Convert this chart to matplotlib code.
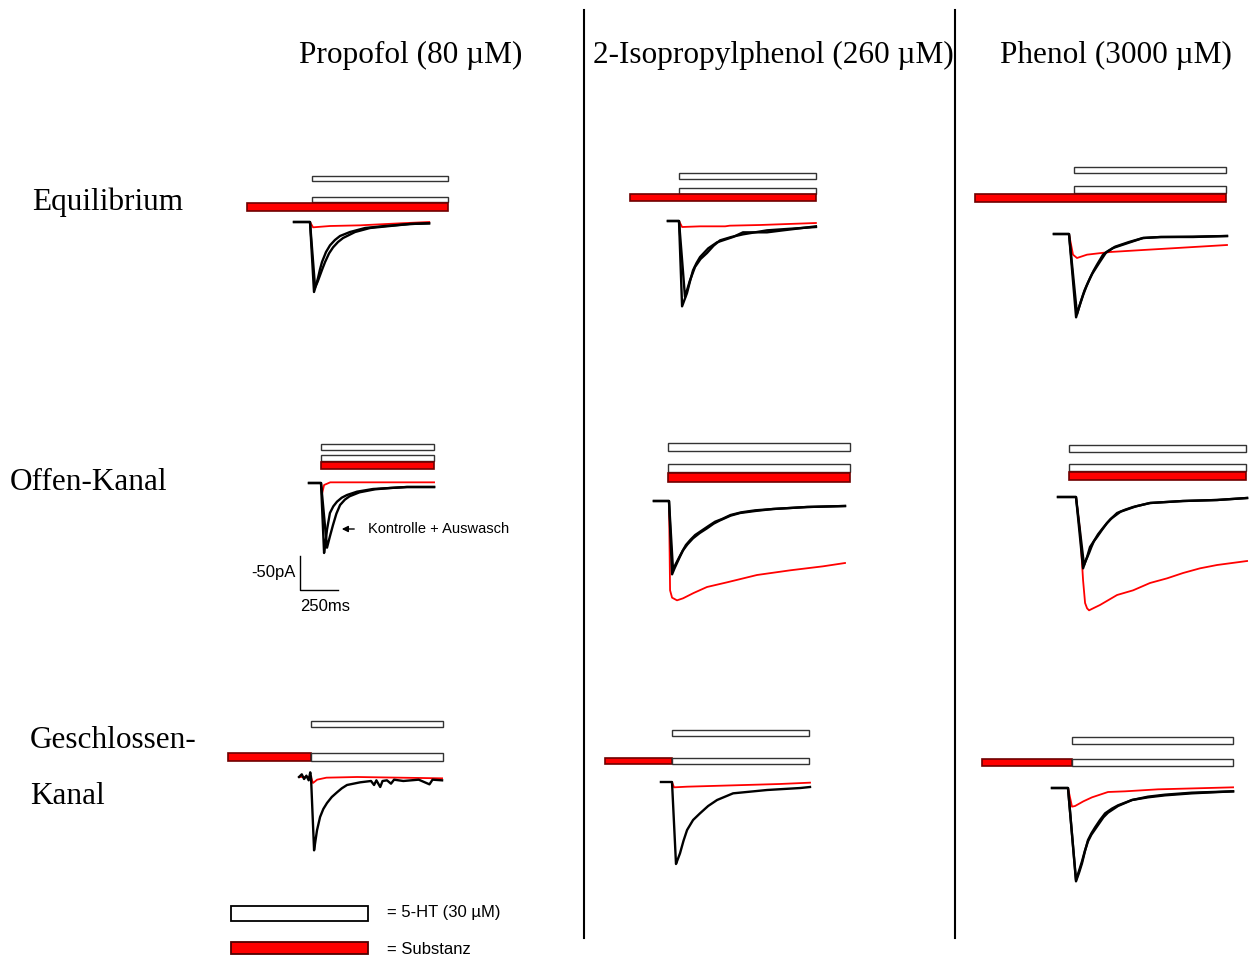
import matplotlib.pyplot as plt
from matplotlib.patches import Rectangle
from matplotlib.transforms import blended_transform_factory

W, H = 1255, 957
MS_PER_PX = 6.5     # time scale of every trace
PA_PER_PX = 1.5     # current scale of every trace

SERIF = 'Liberation Serif'
SANS = 'Liberation Sans'

col_titles = ['Propofol (80 µM)', '2-Isopropylphenol (260 µM)', 'Phenol (3000 µM)']
row_titles = ['Equilibrium', 'Offen-Kanal', 'Geschlossen-', 'Kanal']

# application windows in ms, relative to 5-HT onset of the recording
ht_win = [(13, 897), (0, 890), (33, 1020),
          (0, 735), (-6, 1177), (-46, 1105),
          (0, 858), (0, 891), (26, 1073)]
sub_win = [(-410, 897), (-318, 890), (-611, 1020),
           (0, 735), (-6, 1177), (-46, 1105),
           (-540, 0), (-436, 0), (-559, 26)]

# currents (ms, pA); ctrl/wash = 5-HT alone, sub = with substance
eq_prop_ctrl = [(-104, 0), (0, 0), (26, -105), (39, -95), (52, -84), (65, -71), (78, -60),
                (104, -45), (130, -35), (162, -27), (195, -21), (260, -15), (358, -9),
                (488, -6), (650, -3), (774, -2)]
eq_prop_wash = [(-104, 0), (0, 0), (33, -98), (49, -90), (65, -80), (81, -70), (98, -60),
                (124, -47), (150, -38), (182, -30), (215, -24), (293, -15), (390, -9),
                (520, -6), (650, -3), (774, -2)]
eq_prop_sub = [(-104, 0), (0, 0), (20, -8), (130, -6), (325, -5), (585, -2), (775, 0)]

eq_ipp_ctrl = [(-72, 0), (0, 0), (20, -128), (36, -118), (52, -108), (72, -90), (91, -74),
               (114, -63), (137, -54), (190, -41), (247, -32), (351, -24), (416, -17),
               (572, -17), (676, -14), (890, -8)]
eq_ipp_wash = [(-72, 0), (0, 0), (39, -114), (70, -90), (104, -69), (140, -57), (182, -48),
               (225, -37), (267, -29), (340, -24), (416, -20), (572, -14), (890, -9)]
eq_ipp_sub = [(-72, 0), (0, 0), (20, -9), (137, -8), (300, -8), (330, -7), (527, -6), (890, -3)]

eq_phen_ctrl = [(-98, 0), (0, 0), (46, -125), (68, -108), (91, -92), (114, -78), (137, -66),
                (160, -55), (182, -46), (221, -31), (250, -26), (286, -21), (377, -14),
                (481, -6), (592, -4.5), (806, -4.5), (1027, -3)]
eq_phen_wash = [(-98, 0), (0, 0), (52, -120), (76, -102), (100, -85), (125, -72), (150, -60),
                (200, -42), (240, -28), (300, -19), (390, -12), (481, -6), (600, -4.5),
                (806, -4), (1027, -3)]
eq_phen_sub = [(-98, 0), (0, 0), (26, -31), (52, -36), (117, -31), (267, -27), (481, -24),
               (702, -21), (1027, -16.5)]

oc_prop_ctrl = [(-78, 0), (0, 0), (20, -105), (30, -88), (39, -70), (58, -45), (80, -35),
                (104, -28), (135, -22), (169, -18), (234, -13), (338, -9), (449, -7.5),
                (559, -6), (735, -6)]
oc_prop_wash = [(-78, 0), (0, 0), (39, -97), (58, -80), (78, -63), (100, -46), (124, -33),
                (155, -25), (185, -20), (250, -14), (350, -9.5), (449, -7.5), (559, -6),
                (735, -6)]
oc_prop_sub = [(-78, 0), (0, 0), (7, -16), (20, -3), (60, 1), (735, 1)]

oc_ipp_ctrl = [(-98, 0), (0, 0), (20, -110), (36, -101), (52, -93), (72, -83), (91, -74),
               (120, -65), (156, -56), (200, -48), (247, -41), (290, -34), (332, -29),
               (400, -22), (462, -18), (560, -15), (676, -12), (897, -9), (1144, -7.5)]
oc_ipp_wash = [(-98, 0), (0, 0), (26, -103), (45, -94), (65, -85), (88, -75), (110, -66),
               (140, -58), (170, -51), (215, -44), (260, -37), (300, -31), (345, -27),
               (400, -21), (470, -17), (560, -14), (676, -12), (897, -9), (1144, -7.5)]
oc_ipp_sub = [(-98, 0), (0, 0), (7, -134), (20, -145), (52, -149), (91, -146), (160, -138),
              (247, -129), (377, -122), (572, -111), (787, -104), (1001, -98), (1144, -93)]

oc_phen_ctrl = [(-117, 0), (0, 0), (46, -107), (59, -98), (72, -90), (91, -75), (114, -67),
                (137, -60), (170, -49), (202, -39), (235, -31), (267, -24), (320, -19),
                (371, -15), (481, -9), (696, -6), (917, -4.5), (1112, -1.5)]
oc_phen_wash = [(-117, 0), (0, 0), (52, -102), (68, -93), (85, -84), (100, -75), (117, -66),
                (143, -56), (170, -48), (198, -40), (225, -33), (290, -22), (390, -14),
                (481, -9), (696, -6), (917, -4.5), (1112, -1.5)]
oc_phen_sub = [(-117, 0), (0, 0), (26, -50), (46, -125), (59, -159), (72, -167), (85, -170),
               (120, -166), (156, -162), (267, -147), (371, -140), (481, -129), (592, -122),
               (696, -114), (806, -107), (917, -102), (1112, -96)]

cc_prop_ctrl = [(-78, 0), (-60, 4), (-45, -3), (-30, 2), (-15, -5), (-5, 7), (0, 0), (20, -110),
                (30, -94), (39, -80), (59, -60), (80, -48), (104, -39), (135, -30), (169, -23),
                (200, -17), (234, -12), (319, -8), (390, -6), (410, -12), (425, -5), (450, -15),
                (465, -6), (494, -5), (520, -10), (540, -4), (600, -6), (700, -4), (770, -11),
                (790, -4), (852, -5)]
cc_prop_sub = [(-78, 0), (0, 0), (13, -9), (40, -4), (100, -1), (300, 0), (852, -2)]

cc_ipp_ctrl = [(-72, 0), (0, 0), (26, -123), (39, -115), (52, -107), (75, -88), (98, -72),
               (137, -57), (182, -47), (235, -36), (293, -27), (397, -17), (618, -12),
               (835, -9), (897, -7.5)]
cc_ipp_sub = [(-72, 0), (0, 0), (13, -8), (100, -7), (400, -5), (700, -3), (897, -1)]

cc_phen_ctrl = [(-104, 0), (0, 0), (52, -140), (72, -127), (91, -113), (110, -95), (130, -78),
                (152, -68), (176, -59), (208, -48), (241, -38), (285, -31), (325, -26),
                (416, -18), (520, -14), (631, -11), (806, -8), (1073, -5)]
cc_phen_wash = [(-104, 0), (0, 0), (52, -138), (72, -124), (91, -110), (110, -94), (130, -80),
                (152, -70), (176, -62), (230, -44), (260, -37), (325, -27), (416, -18),
                (520, -13), (631, -10), (806, -7), (1073, -5)]
cc_phen_sub = [(-104, 0), (0, 0), (26, -28), (46, -27), (100, -20), (156, -14), (260, -6),
               (371, -5), (585, -2), (1073, 1)]

black_traces = [[eq_prop_ctrl, eq_prop_wash], [eq_ipp_ctrl, eq_ipp_wash], [eq_phen_ctrl, eq_phen_wash],
                [oc_prop_ctrl, oc_prop_wash], [oc_ipp_ctrl, oc_ipp_wash], [oc_phen_ctrl, oc_phen_wash],
                [cc_prop_ctrl], [cc_ipp_ctrl], [cc_phen_ctrl, cc_phen_wash]]
red_traces = [eq_prop_sub, eq_ipp_sub, eq_phen_sub,
              oc_prop_sub, oc_ipp_sub, oc_phen_sub,
              cc_prop_sub, cc_ipp_sub, cc_phen_sub]

# where each recording sits on the page: pixel of (5-HT onset, baseline)
origins = [(310, 222), (679, 221), (1069, 234),
           (321, 483), (669, 501), (1076, 497),
           (311, 777), (672, 782), (1068, 788)]
# bar rows: (top px, height px, what)
bar_rows = [
    [(176, 5, 'ht'), (197, 5, 'ht'), (203, 8, 'sub')],
    [(173, 6, 'ht'), (188, 6, 'ht'), (194, 7, 'sub')],
    [(167, 6, 'ht'), (186, 7, 'ht'), (194, 8, 'sub')],
    [(444, 6, 'ht'), (455, 6, 'ht'), (462, 7, 'sub')],
    [(443, 8, 'ht'), (464, 8, 'ht'), (473, 9, 'sub')],
    [(445, 7, 'ht'), (464, 7, 'ht'), (472, 8, 'sub')],
    [(721, 6, 'ht'), (753, 8, 'sub'), (753, 8, 'ht')],
    [(730, 6, 'ht'), (758, 6, 'sub'), (758, 6, 'ht')],
    [(737, 7, 'ht'), (759, 7, 'sub'), (759, 7, 'ht')],
]

WHITE_BAR = dict(facecolor='white', edgecolor='#333333', lw=1.0)
RED_BAR = dict(facecolor='#ff0000', edgecolor='#700000', lw=1.2)

fig = plt.figure(figsize=(W / 100, H / 100), dpi=100)
base = fig.add_axes([0, 0, 1, 1])
base.set_xlim(0, W)
base.set_ylim(H, 0)
base.axis('off')

panel_axes = []
for k, (x0, y0) in enumerate(origins):
    ax = fig.add_axes([0, 0, 1, 1], label='panel%d' % k)
    ax.set_xlim(-x0 * MS_PER_PX, (W - x0) * MS_PER_PX)
    ax.set_ylim((y0 - H) * PA_PER_PX, y0 * PA_PER_PX)
    ax.axis('off')
    panel_axes.append(ax)

    tr = blended_transform_factory(ax.transData, base.transData)
    for top, h, what in bar_rows[k]:
        t0, t1 = ht_win[k] if what == 'ht' else sub_win[k]
        style = WHITE_BAR if what == 'ht' else RED_BAR
        ax.add_patch(Rectangle((t0, top), t1 - t0, h, transform=tr, clip_on=False, **style))

    t, i = zip(*red_traces[k])
    ax.plot(t, i, color='#ff0000', lw=1.3, solid_joinstyle='round', zorder=2)
    for trace in black_traces[k]:
        t, i = zip(*trace)
        ax.plot(t, i, color='black', lw=1.7, solid_joinstyle='round', zorder=3)

# scale bar next to the open-channel propofol recording
sb = panel_axes[3]
sb_t, sb_i = -137, -160
sb.plot([sb_t, sb_t, sb_t + 250], [sb_i + 50, sb_i, sb_i], color='black', lw=1.0)
sb.text(sb_t - 4 * MS_PER_PX, sb_i + 25, '-50pA', family=SANS, fontsize=12,
        ha='right', va='center')
sb.text(sb_t + 125 + 6 * MS_PER_PX, sb_i - 17 * PA_PER_PX, '250ms', family=SANS, fontsize=12,
        ha='center', va='center')

base.annotate('', xy=(339, 529), xytext=(357, 529),
              arrowprops=dict(arrowstyle='-|>', color='black', lw=1.0, mutation_scale=9))
base.text(368, 529, 'Kontrolle + Auswasch', family=SANS, fontsize=10.5, ha='left', va='center')

# column and row headings
for x, s in zip([411, 773, 1116], col_titles):
    base.text(x, 55, s, family=SERIF, fontsize=22.5, ha='center', va='center')
for (x, y), s in zip([(32, 202), (10, 483), (30, 740), (30, 796)], row_titles):
    base.text(x, y, s, family=SERIF, fontsize=22.5, ha='left', va='center')

# separators between the compounds
for x in (584, 955):
    base.plot([x, x], [10, 938], color='black', lw=1.5)

# key
base.add_patch(Rectangle((231, 906), 137, 15, facecolor='white', edgecolor='black', lw=1.3))
base.add_patch(Rectangle((231, 942), 137, 12, facecolor='#ff0000', edgecolor='#500000', lw=1.3))
base.text(387, 913, '= 5-HT (30 µM)', family=SANS, fontsize=12, ha='left', va='center')
base.text(387, 949, '= Substanz', family=SANS, fontsize=12, ha='left', va='center')

fig.savefig('out.png', dpi=100)
